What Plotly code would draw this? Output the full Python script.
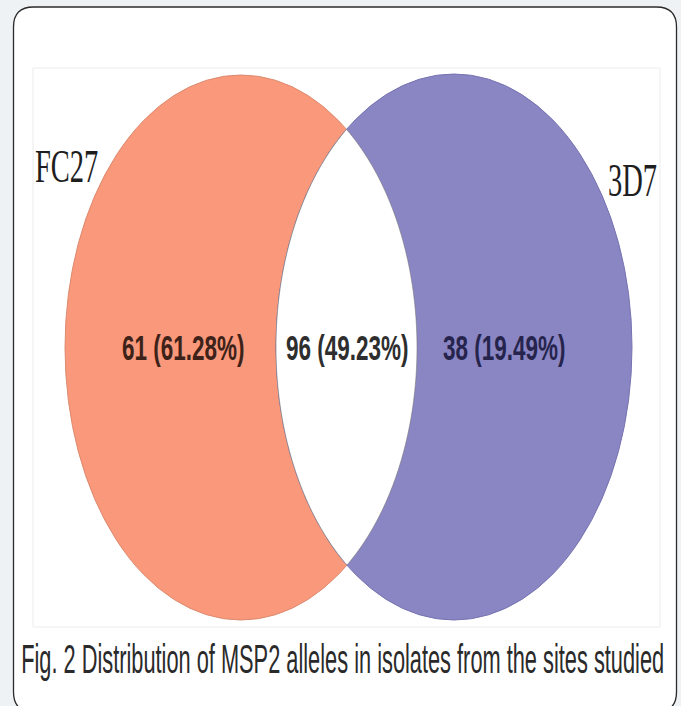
import numpy as np
import plotly.graph_objects as go

# ---------------- data ----------------
set_names = ["FC27", "3D7"]
region_counts = [61, 96, 38]            # FC27 only, both, 3D7 only
region_pcts = [61.28, 49.23, 19.49]
caption = "Fig. 2 Distribution of MSP2 alleles in isolates from the sites studied"

# ---------------- geometry / style ----------------
W, H = 681, 706
ell_orange = dict(cx=241.0, cy=347.5, rx=176.0, ry=272.5)
ell_purple = dict(cx=454.0, cy=347.0, rx=178.0, ry=273.0)
col_orange = "#F9987A"
col_purple = "#8A86C4"

fig = go.Figure()
fig.add_trace(go.Scatter(x=[None], y=[None], mode="markers", hoverinfo="skip", showlegend=False))

# rounded outer card
l, r_, t, b, rad = 13.5, 676.5, 7.0, 712.0, 20.0
card = (f"M {l+rad},{t} L {r_-rad},{t} Q {r_},{t} {r_},{t+rad} L {r_},{b-rad} "
        f"Q {r_},{b} {r_-rad},{b} L {l+rad},{b} Q {l},{b} {l},{b-rad} L {l},{t+rad} "
        f"Q {l},{t} {l+rad},{t} Z")
fig.add_shape(type="path", path=card, xref="x", yref="y", fillcolor="white",
              line=dict(color="#2b2b2b", width=1.3), layer="below")
# faint inner image frame
fig.add_shape(type="rect", x0=33, x1=660, y0=68, y1=627, xref="x", yref="y",
              fillcolor="white", line=dict(color="#ececec", width=1), layer="below")


def ell_shape(e, fill, line):
    fig.add_shape(type="circle", xref="x", yref="y",
                  x0=e["cx"] - e["rx"], x1=e["cx"] + e["rx"],
                  y0=e["cy"] - e["ry"], y1=e["cy"] + e["ry"],
                  fillcolor=fill, line=dict(color=line, width=1), layer="above")


ell_shape(ell_orange, col_orange, "#dc8a70")
ell_shape(ell_purple, col_purple, "#7673b0")


# lens (intersection) in white
def half_w(e, y):
    v = 1 - ((y - e["cy"]) / e["ry"]) ** 2
    return e["rx"] * np.sqrt(np.clip(v, 0, None))


def gap(y):
    return (ell_orange["cx"] + half_w(ell_orange, y)) - (ell_purple["cx"] - half_w(ell_purple, y))


def bisect(lo, hi):
    for _ in range(80):
        mid = (lo + hi) / 2
        if (gap(mid) > 0) == (gap(lo) > 0):
            lo = mid
        else:
            hi = mid
    return (lo + hi) / 2


ymid = (ell_orange["cy"] + ell_purple["cy"]) / 2
ytop = bisect(ymid, max(ell_orange["cy"] - ell_orange["ry"], ell_purple["cy"] - ell_purple["ry"]))
ybot = bisect(ymid, min(ell_orange["cy"] + ell_orange["ry"], ell_purple["cy"] + ell_purple["ry"]))
ys = np.linspace(ytop, ybot, 300)
xl = ell_purple["cx"] - half_w(ell_purple, ys)
xr = ell_orange["cx"] + half_w(ell_orange, ys)
pts = [(x, y) for x, y in zip(xl, ys)] + [(x, y) for x, y in zip(xr[::-1], ys[::-1])]
lens = "M " + " L ".join(f"{x:.2f},{y:.2f}" for x, y in pts) + " Z"
fig.add_shape(type="path", path=lens, xref="x", yref="y", fillcolor="white",
              line=dict(color="rgba(110,110,110,0.55)", width=1), layer="above")

# ---------------- text ----------------
ann = []
stretch = []
serif = "Liberation Serif, Times New Roman, serif"
ann.append(dict(x=66, y=166, text=set_names[0], font=dict(family=serif, size=28.5, color="#1e1e1e")))
stretch.append(1.65)
ann.append(dict(x=632, y=180, text=set_names[1], font=dict(family=serif, size=28.5, color="#1e1e1e")))
stretch.append(1.65)

label_x = [183.5, 347.5, 504]
label_col = ["#3d2219", "#2e2e2e", "#26244c"]
for i in range(3):
    ann.append(dict(x=label_x[i], y=348.5, text=f"{region_counts[i]} ({region_pcts[i]:.2f}%)",
                    font=dict(family="Liberation Sans, Arial, sans-serif", size=22.5,
                              color=label_col[i], weight="bold")))
    stretch.append(1.55)

ann.append(dict(x=342.5, y=658.5, text=caption,
                font=dict(family="Liberation Sans, Arial, sans-serif", size=21.8, color="#2a2a2a")))
stretch.append(1.9)

for a in ann:
    a.update(xref="x", yref="y", showarrow=False, xanchor="center", yanchor="middle")

fig.update_layout(
    width=W, height=H, autosize=False,
    margin=dict(l=0, r=0, t=0, b=0),
    paper_bgcolor="#EEF2F5", plot_bgcolor="rgba(0,0,0,0)",
    xaxis=dict(range=[0, W], visible=False, fixedrange=True),
    yaxis=dict(range=[H, 0], visible=False, fixedrange=True),
    annotations=ann, showlegend=False,
)

post = """
document.body.style.margin = '0';
document.body.style.padding = '0';
document.body.style.overflow = 'hidden';
document.body.style.background = '#EEF2F5';
var gd = document.getElementById('{plot_id}');
var sy = %s;
gd.querySelectorAll('g.annotation').forEach(function(g){
  var i = +g.getAttribute('data-index');
  var t = g.querySelector('text.annotation-text');
  if(!t) return;
  var bb = t.getBBox();
  var cx = bb.x + bb.width/2, cy = bb.y + bb.height/2;
  var s = sy[i] || 1;
  t.setAttribute('transform', 'translate('+cx+','+cy+') scale(1,'+s+') translate('+(-cx)+','+(-cy)+')');
});
""" % str(stretch)

fig.write_html("out.html", config={"displayModeBar": False}, post_script=post)
